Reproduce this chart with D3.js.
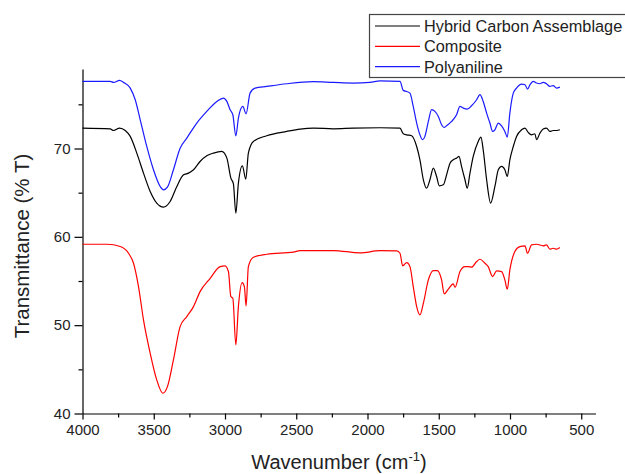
<!DOCTYPE html>
<html>
<head>
<meta charset="utf-8">
<script src="https://cdn.jsdelivr.net/npm/d3@7"></script>
<style>
  body { margin: 0; background: #fff; }
  svg { font-family: "Liberation Sans", Arial, sans-serif; }
</style>
</head>
<body>
<div class="graph"></div>
<script>
// wavenumber (cm-1) / transmittance (%)
var hybridWave = [4000,3806,3782,3740,3700,3665,3619,3572,3525,3479,3432,3385,3338,3291,3256,3221,3175,3128,3081,3023,2987,2959,2941,2924,2906,2878,2854,2836,2801,2707,2567,2473,2380,2240,2099,1912,1772,1749,1725,1690,1655,1632,1608,1585,1562,1538,1515,1496,1468,1445,1421,1398,1375,1358,1340,1316,1300,1281,1258,1223,1204,1188,1164,1136,1106,1082,1059,1036,1019,1001,977,954,919,895,872,849,825,814,790,767,744,720,697,673,650];
var hybridT = [72.31,72.23,72.04,72.31,72.04,71.37,69.48,67.21,65.13,63.81,63.36,64.0,65.7,67.02,67.21,67.59,68.53,69.17,69.48,69.67,68.91,66.65,66.0,62.68,66.08,68.04,66.53,69.48,70.8,71.44,71.93,72.2,72.31,72.23,72.31,72.35,72.31,71.67,71.55,71.44,70.23,68.72,66.46,65.51,66.46,67.78,66.83,65.78,65.89,67.02,68.34,68.72,68.91,69.1,67.97,66.46,65.51,67.21,69.1,70.8,71.29,69.85,66.46,63.81,65.7,67.59,67.97,67.59,66.83,68.72,70.23,71.37,72.12,72.31,71.82,71.55,71.67,70.99,71.74,72.2,72.31,71.93,72.04,72.04,72.12];

var compositeWave = [4000,3829,3735,3677,3642,3607,3572,3525,3479,3436,3404,3362,3315,3268,3221,3175,3104,3034,3000,2976,2959,2945,2924,2906,2880,2864,2852,2836,2801,2707,2520,2473,2240,2053,1912,1795,1772,1753,1725,1702,1679,1655,1632,1608,1573,1538,1510,1480,1461,1433,1398,1386,1351,1316,1293,1270,1234,1211,1176,1153,1122,1094,1059,1036,1019,1001,966,931,895,877,849,814,767,744,720,697,673,650];
var compositeT = [59.16,59.16,58.9,58.14,57.01,54.37,50.59,46.82,43.8,42.29,43.04,46.06,49.84,50.97,52.1,53.8,55.31,56.63,56.71,56.07,53.24,53.05,47.76,52.1,54.82,54.37,52.18,56.63,57.69,58.03,58.26,58.45,58.45,58.18,58.43,58.41,58.14,56.71,57.09,56.63,54.37,52.1,51.16,52.48,55.12,56.18,56.18,55.12,53.54,54.07,54.67,54.29,56.07,56.63,56.63,56.56,57.2,57.46,57.01,56.63,55.5,56.14,56.07,55.12,54.07,56.25,58.33,58.9,58.98,58.14,59.09,59.16,58.98,59.09,58.6,58.71,58.6,58.79];

var polyWave = [4000,3806,3782,3740,3712,3665,3630,3595,3549,3502,3455,3432,3404,3362,3315,3268,3198,3128,3057,3011,2987,2964,2945,2924,2906,2875,2852,2824,2789,2707,2567,2380,2240,2099,1983,1912,1772,1749,1725,1702,1679,1655,1632,1613,1597,1573,1550,1527,1503,1480,1463,1445,1410,1375,1351,1328,1300,1270,1234,1211,1188,1164,1141,1122,1106,1082,1059,1036,1019,1001,977,954,919,895,877,860,837,814,790,767,744,720,697,673,650];
var polyT = [77.6,77.6,77.48,77.71,77.48,76.84,75.52,73.25,70.23,67.59,65.7,65.32,65.63,67.59,70.04,71.18,72.88,74.2,75.33,75.71,75.33,74.39,73.82,71.44,73.44,74.76,73.93,76.27,76.84,77.03,77.33,77.56,77.48,77.41,77.48,77.65,77.6,76.58,76.46,76.27,74.76,72.88,71.55,70.99,71.37,73.06,74.39,74.2,73.63,72.69,72.38,72.57,73.06,73.82,74.76,74.57,74.46,74.84,75.52,76.09,75.33,74.01,72.88,71.93,72.12,72.88,72.57,71.93,71.29,74.01,76.27,76.84,77.29,77.22,76.73,77.22,77.6,77.41,77.33,77.48,77.33,77.03,77.11,76.84,76.95];

var seriesNames = ["Hybrid Carbon Assemblage", "Composite", "Polyaniline"];
var seriesColors = ["#000000", "#ff0000", "#1a1aff"];
var xTicks = [4000, 3500, 3000, 2500, 2000, 1500, 1000, 500];
var yTicks = [40, 50, 60, 70];

var w = 625, h = 474;
var svg = d3.select(".graph").append("svg")
            .attr("width", w)
            .attr("height", h);

var x = d3.scaleLinear().domain([4000, 400]).range([82.5, 595.5]);
var y = d3.scaleLinear().domain([40, 79]).range([413.5, 69]);

// minor ticks first
svg.append("g")
  .attr("transform", "translate(0,413.5)")
  .call(d3.axisBottom(x).tickValues(d3.range(3750, 400, -500)).tickSize(4).tickFormat(""))
  .call(g => g.select(".domain").remove());
svg.append("g")
  .attr("transform", "translate(82.5,0)")
  .call(d3.axisLeft(y).tickValues([45, 55, 65, 75]).tickSize(4).tickFormat(""))
  .call(g => g.select(".domain").remove());

var xAxis = svg.append("g")
  .attr("transform", "translate(0,413.5)")
  .call(d3.axisBottom(x).tickValues(xTicks).tickFormat(d3.format("d"))
          .tickSize(6).tickSizeOuter(0).tickPadding(5));
var yAxis = svg.append("g")
  .attr("transform", "translate(82.5,0)")
  .call(d3.axisLeft(y).tickValues(yTicks).tickFormat(d3.format("d"))
          .tickSize(8).tickSizeOuter(0).tickPadding(4));

svg.selectAll(".tick text")
   .attr("font-family", "Liberation Sans, Arial, sans-serif")
   .attr("font-size", "15px")
   .attr("fill", "#222");
svg.selectAll(".domain, .tick line").attr("stroke", "#000").attr("stroke-width", 1.2);

var line = d3.line()
  .x(d => x(d[0]))
  .y(d => y(d[1]))
  .curve(d3.curveMonotoneX);

var series = [
  d3.zip(hybridWave, hybridT),
  d3.zip(compositeWave, compositeT),
  d3.zip(polyWave, polyT)
];

svg.selectAll("path.spec")
  .data(series)
  .enter()
    .append("path")
    .attr("class", "spec")
    .attr("d", line)
    .attr("fill", "none")
    .attr("stroke", (d, i) => seriesColors[i])
    .attr("stroke-width", 1.2);

// axis titles
svg.append("text")
  .attr("transform", "translate(29,246) rotate(-90)")
  .attr("text-anchor", "middle")
  .attr("font-size", "20.5px")
  .attr("fill", "#222")
  .text("Transmittance (% T)");

var xt = svg.append("text")
  .attr("x", 339)
  .attr("y", 469)
  .attr("text-anchor", "middle")
  .attr("font-size", "20px")
  .attr("fill", "#222");
xt.append("tspan").text("Wavenumber (cm");
xt.append("tspan").attr("font-size", "13px").attr("dy", -8).text("-1");
xt.append("tspan").attr("dy", 8).text(")");

// legend
var legend = svg.append("g");
legend.append("rect")
  .attr("x", 369.5).attr("y", 14.5)
  .attr("width", 280).attr("height", 63)
  .attr("fill", "#fff")
  .attr("stroke", "#444")
  .attr("stroke-width", 1.2);
var rows = legend.selectAll("g.row")
  .data(seriesNames)
  .enter()
    .append("g")
    .attr("class", "row")
    .attr("transform", (d, i) => "translate(0," + (26 + i * 20.3) + ")");
rows.append("line")
  .attr("x1", 375).attr("x2", 420)
  .attr("stroke", (d, i) => seriesColors[i])
  .attr("stroke-width", 1.2);
rows.append("text")
  .attr("x", 424)
  .attr("y", 6)
  .attr("font-size", "16.3px")
  .attr("fill", "#222")
  .text(d => d);
</script>
</body>
</html>
